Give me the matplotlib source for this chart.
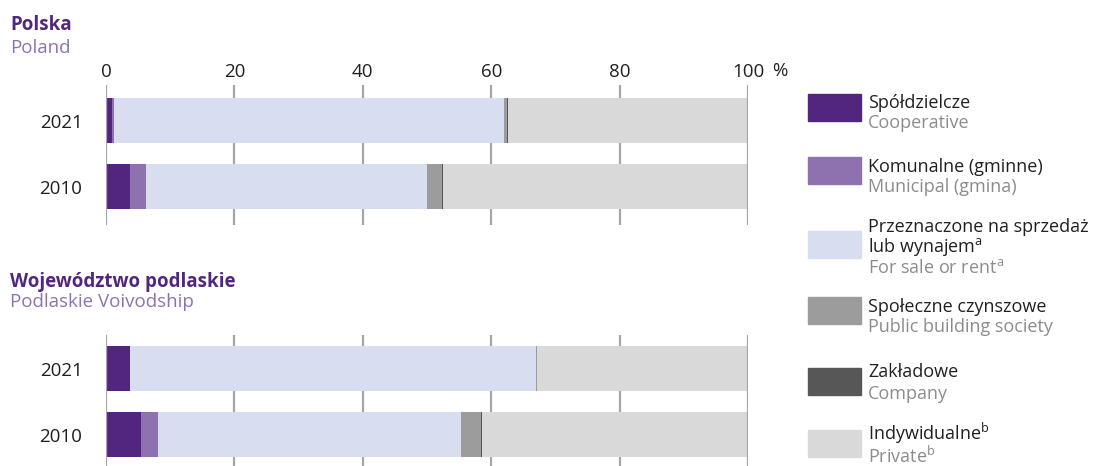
import matplotlib.pyplot as plt
import matplotlib.patches as mpatches
import numpy as np

plt.rcParams['font.family'] = ['Open Sans', 'DejaVu Sans']

years = ['2021', '2010']
ticks = [0, 20, 40, 60, 80, 100]
categories_pl = ['Spółdzielcze', 'Komunalne (gminne)', 'Przeznaczone na sprzedaż\nlub wynajem$^{\\mathregular{a}}$',
                 'Społeczne czynszowe', 'Zakładowe', 'Indywidualne$^{\\mathregular{b}}$']
categories_en = ['Cooperative', 'Municipal (gmina)', 'For sale or rent$^{\\mathregular{a}}$',
                 'Public building society', 'Company', 'Private$^{\\mathregular{b}}$']
colors = ['#52267F', '#8E72B0', '#D8DDF0', '#9C9C9C', '#575757', '#D9D9D9']

# shares in %, rows = years (2021, 2010), columns = categories
poland = np.array([
    [0.9, 0.3, 60.8, 0.5, 0.1, 37.4],
    [3.7, 2.5, 43.8, 2.3, 0.2, 47.5],
])
podlaskie = np.array([
    [3.7, 0.0, 63.3, 0.1, 0.0, 32.9],
    [5.5, 2.6, 47.2, 3.1, 0.2, 41.4],
])

PURPLE = '#52267F'
LIGHT_PURPLE = '#8E72B0'
GRID = '#A6A6A6'
TXT = '#231F20'
FS = 13.5
FS_LEG = 13

fig = plt.figure(figsize=(11.03, 4.66), dpi=100)
W, H = 1103, 466


def fy(px):
    return 1 - px / H


def panel(data, top_px, bottom_px, ylim, show_ticks):
    ax = fig.add_axes([106 / W, fy(bottom_px), (748 - 106) / W, (bottom_px - top_px) / H])
    ypos = np.arange(len(years))
    left = np.zeros(len(years))
    for i, c in enumerate(colors):
        ax.barh(ypos, data[:, i], left=left, height=0.68, color=c, zorder=2, linewidth=0)
        left += data[:, i]
    ax.set_xlim(0, 100)
    ax.set_ylim(*ylim)
    for x in ticks:
        ax.axvline(x, color=GRID, lw=1.6, zorder=1 if 0 < x < 100 else 3)
    for s in ax.spines.values():
        s.set_visible(False)
    ax.set_yticks(ypos)
    ax.set_yticklabels(years, fontsize=FS, color=TXT)
    ax.tick_params(axis='y', length=0, pad=17)
    if show_ticks:
        ax.xaxis.tick_top()
        ax.set_xticks(ticks)
        ax.set_xticklabels([str(v) for v in ticks], fontsize=FS, color=TXT)
        ax.tick_params(axis='x', length=0, pad=3)
    else:
        ax.set_xticks([])
    return ax


panel(poland, 85, 225, (1.583, -0.538), True)
panel(podlaskie, 335, 466, (1.477, -0.508), False)

fig.text(780 / W, fy(71), '%', fontsize=FS, color=TXT, va='center', ha='center')

fig.text(10 / W, fy(30), 'Polska', fontsize=FS, fontweight='bold', color=PURPLE, va='baseline')
fig.text(10 / W, fy(53), 'Poland', fontsize=FS, color=LIGHT_PURPLE, va='baseline')
fig.text(10 / W, fy(287), 'Województwo podlaskie', fontsize=FS, fontweight='bold', color=PURPLE, va='baseline')
fig.text(10 / W, fy(307), 'Podlaskie Voivodship', fontsize=FS, color=LIGHT_PURPLE, va='baseline')

# legend: patch centres and text baselines in pixels
patch_c = [107.5, 170.5, 244.5, 310, 381, 443.5]
pl_base = [108, 172, 232, 312, 377, 440]
en_base = [128, 192, 273, 332, 399, 463]
for i in range(len(colors)):
    fig.patches.append(mpatches.Rectangle((808 / W, fy(patch_c[i] + 13.5)), 53 / W, 27 / H,
                                          transform=fig.transFigure, color=colors[i]))
    for j, line in enumerate(categories_pl[i].split('\n')):
        fig.text(868 / W, fy(pl_base[i] + 20 * j), line, fontsize=FS_LEG, color=TXT, va='baseline')
    fig.text(868 / W, fy(en_base[i]), categories_en[i], fontsize=FS_LEG, color='#8C8C8C', va='baseline')

fig.savefig('out.png', dpi=100)
